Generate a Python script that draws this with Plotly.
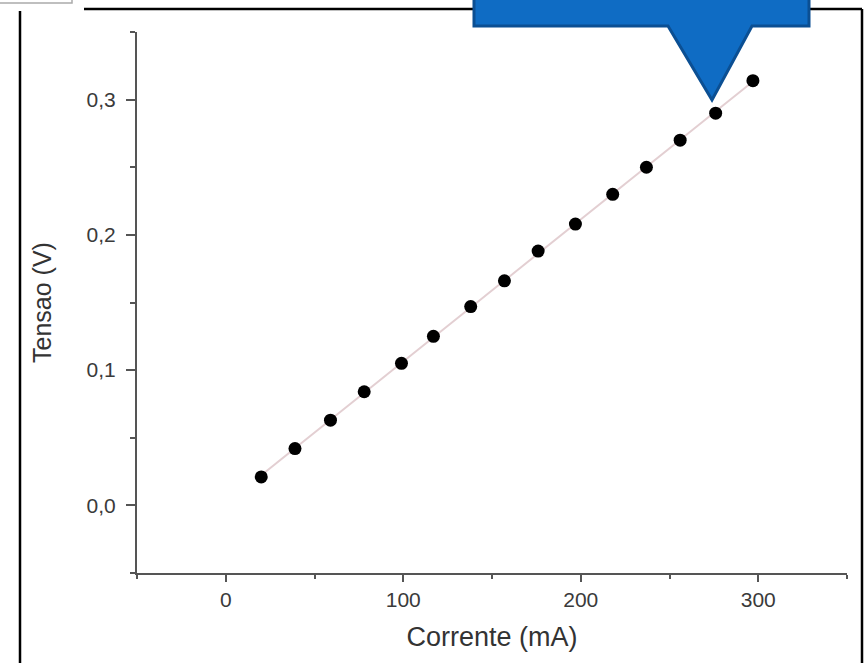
import numpy as np
import plotly.graph_objects as go

# Data
corrente_mA = [20, 39, 59, 78, 99, 117, 138, 157, 176, 197, 218, 237, 256, 276, 297]
tensao_V = [0.021, 0.042, 0.063, 0.084, 0.105, 0.125, 0.147, 0.166, 0.188, 0.208, 0.230, 0.250, 0.270, 0.290, 0.314]
x_ticks = [0, 100, 200, 300]
y_ticks = [0.0, 0.1, 0.2, 0.3]
y_tick_labels = ["0,0", "0,1", "0,2", "0,3"]

# linear fit drawn through the points
slope, intercept = np.polyfit(corrente_mA, tensao_V, 1)
fit_x = [min(corrente_mA), max(corrente_mA)]
fit_y = [slope * v + intercept for v in fit_x]

W, H = 865, 663
L, R, T, B = 137, 847, 32, 573

def px(x):
    return (x - L) / (R - L)

def py(y):
    return (B - y) / (B - T)

FONT = "Liberation Sans, Arial, sans-serif"

fig = go.Figure()
fig.add_trace(go.Scatter(x=fit_x, y=fit_y, mode="lines",
                         line=dict(color="#e3cfd2", width=2), hoverinfo="skip", showlegend=False))
fig.add_trace(go.Scatter(x=corrente_mA, y=tensao_V, mode="markers",
                         marker=dict(color="black", size=13), showlegend=False))

tick_font = dict(family=FONT, size=21, color="#3a3a3a")
fig.update_xaxes(range=[-50, 350], tickvals=x_ticks, ticks="outside", ticklen=7, tickwidth=1.5,
                 tickcolor="#555", showline=True, linecolor="#555", linewidth=2,
                 showgrid=False, zeroline=False, tickfont=tick_font, ticklabelstandoff=0,
                 minor=dict(dtick=50, ticks="outside", ticklen=4, tickwidth=1.5, tickcolor="#555"),
                 title=dict(text="Corrente (mA)", font=dict(family=FONT, size=27, color="#333"), standoff=17))
fig.update_yaxes(range=[-0.05, 0.35], tickvals=y_ticks, ticktext=y_tick_labels, ticks="outside", ticklen=9,
                 tickwidth=1.5, tickcolor="#555", showline=True, linecolor="#555", linewidth=2,
                 showgrid=False, zeroline=False, tickfont=tick_font, ticklabelstandoff=6,
                 minor=dict(dtick=0.05, ticks="outside", ticklen=5, tickwidth=1.5, tickcolor="#555"),
                 title=dict(text="Tensao (V)", font=dict(family=FONT, size=25, color="#333"), standoff=28))

shapes = [
    # outer frame lines
    dict(type="line", xref="paper", yref="paper", x0=px(20), x1=px(20), y0=py(11), y1=py(670),
         line=dict(color="black", width=2.5)),
    dict(type="line", xref="paper", yref="paper", x0=px(84), x1=px(862), y0=py(9), y1=py(9),
         line=dict(color="black", width=2.5)),
    dict(type="line", xref="paper", yref="paper", x0=px(862), x1=px(862), y0=py(9), y1=py(670),
         line=dict(color="black", width=2.5)),
    # small box top-left
    dict(type="rect", xref="paper", yref="paper", x0=px(-5), x1=px(72), y0=py(-5), y1=py(3),
         line=dict(color="#aaaaaa", width=1.5), fillcolor="white"),
    # callout
    dict(type="path", xref="paper", yref="paper",
         path="M {} {} L {} {} L {} {} L {} {} L {} {} L {} {} L {} {} Z".format(
             px(474), py(-5), px(809), py(-5), px(809), py(26), px(752), py(26),
             px(712), py(100), px(668), py(26), px(474), py(26)),
         fillcolor="#0f6cc4", line=dict(color="#0b4f93", width=3)),
]

fig.update_layout(width=W, height=H, margin=dict(l=L, r=W - R, t=T, b=H - B, autoexpand=False),
                  plot_bgcolor="white", paper_bgcolor="white", separators=", ",
                  shapes=shapes, showlegend=False)
fig.write_html("out.html")
